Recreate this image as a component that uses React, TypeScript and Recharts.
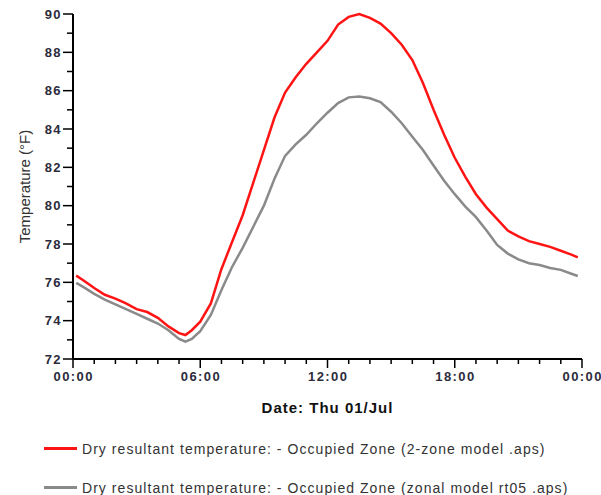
import React from 'react';
import { LineChart, Line, XAxis, YAxis, Legend } from 'recharts';

// hours since midnight, Thu 01/Jul
const hours = [
  0.15, 0.5, 1, 1.5, 2, 2.5, 3, 3.5, 4, 4.5, 5, 5.3, 5.6, 6, 6.5, 7, 7.5, 8, 8.5, 9,
  9.5, 10, 10.5, 11, 11.5, 12, 12.5, 13, 13.5, 14, 14.5, 15, 15.5, 16, 16.5, 17, 17.5,
  18, 18.5, 19, 19.5, 20, 20.5, 21, 21.5, 22, 22.5, 23, 23.5, 23.8,
];

// 2-zone model (red)
const twoZone = [
  76.35, 76.1, 75.7, 75.35, 75.15, 74.9, 74.6, 74.45, 74.15, 73.7, 73.35, 73.25, 73.5, 73.95,
  74.9, 76.7, 78.1, 79.5, 81.2, 82.9, 84.6, 85.9, 86.7, 87.4, 88.0, 88.6, 89.45, 89.85, 90.0,
  89.8, 89.5, 89.0, 88.4, 87.6, 86.4, 85.0, 83.7, 82.5, 81.5, 80.6, 79.9, 79.3, 78.7, 78.4,
  78.15, 78.0, 77.85, 77.65, 77.45, 77.3,
];

// zonal model rt05 (grey)
const zonal = [
  75.97, 75.75, 75.4, 75.1, 74.85, 74.6, 74.35, 74.1, 73.85, 73.5, 73.05, 72.9, 73.05, 73.45,
  74.3, 75.6, 76.8, 77.8, 78.9, 80.0, 81.4, 82.6, 83.2, 83.7, 84.3, 84.85, 85.35, 85.65, 85.7,
  85.6, 85.4, 84.9, 84.3, 83.6, 82.9, 82.1, 81.3, 80.6, 79.95, 79.4, 78.7, 77.95, 77.5, 77.2,
  77.0, 76.9, 76.75, 76.65, 76.45, 76.33,
];

const xTicks = [0, 1, 2, 3, 4, 5, 6, 7, 8, 9, 10, 11, 12, 13, 14, 15, 16, 17, 18, 19, 20, 21, 22, 23, 24];
const xLabels: Record<number, string> = { 0: '00:00', 6: '06:00', 12: '12:00', 18: '18:00', 24: '00:00' };
const yTicks = [72, 73, 74, 75, 76, 77, 78, 79, 80, 81, 82, 83, 84, 85, 86, 87, 88, 89, 90];

const seriesNames = [
  'Dry resultant temperature: - Occupied Zone (2-zone model .aps)',
  'Dry resultant temperature: - Occupied Zone (zonal model rt05 .aps)',
];

const data = hours.map((h, i) => ({ h, twoZone: twoZone[i], zonal: zonal[i] }));

const tickText = { fontFamily: 'Arial, "Liberation Sans", sans-serif', fontSize: 13, fontWeight: 700, letterSpacing: 1.4, fill: '#2b2b3b' };

const YTick = ({ x, y, payload }: any) => {
  const major = payload.value % 2 === 0;
  return (
    <g>
      <line x1={x - (major ? 10 : 6)} x2={x} y1={y} y2={y} stroke="#000" strokeWidth={1.5} />
      {major && (
        <text x={x - 11} y={y + 4.5} textAnchor="end" style={tickText}>
          {payload.value}
        </text>
      )}
    </g>
  );
};

const XTick = ({ x, y, payload }: any) => {
  const label = xLabels[payload.value];
  return (
    <g>
      <line x1={x} x2={x} y1={y} y2={y + (label ? 9 : 5)} stroke="#000" strokeWidth={1.5} />
      {label && (
        <text x={x + 0.7} y={y + 22} textAnchor="middle" style={tickText}>
          {label}
        </text>
      )}
    </g>
  );
};

const XLabel = ({ viewBox }: any) => (
  <text
    x={viewBox.x + viewBox.width / 2}
    y={viewBox.y + 54}
    textAnchor="middle"
    style={{ fontFamily: 'Arial, "Liberation Sans", sans-serif', fontSize: 15, fontWeight: 700, letterSpacing: 1, fill: '#111' }}
  >
    Date: Thu 01/Jul
  </text>
);

const YLabel = ({ viewBox }: any) => {
  const cx = viewBox.x + 30;
  const cy = viewBox.y + viewBox.height / 2;
  return (
    <text
      x={cx}
      y={cy}
      textAnchor="middle"
      transform={`rotate(-90, ${cx}, ${cy})`}
      style={{ fontFamily: 'Arial, "Liberation Sans", sans-serif', fontSize: 15, fill: '#333' }}
    >
      Temperature (°F)
    </text>
  );
};

const LegendRows = ({ payload }: any) => (
  <div style={{ fontFamily: 'Arial, "Liberation Sans", sans-serif', fontSize: 14, letterSpacing: 1.05, color: '#333' }}>
    {(payload || []).map((entry: any, i: number) => (
      <div key={i} style={{ display: 'flex', alignItems: 'center', height: 39, lineHeight: '16px' }}>
        <span style={{ display: 'inline-block', width: 33, height: 3, background: entry.color, marginRight: 5 }} />
        <span style={{ whiteSpace: 'nowrap' }}>{entry.value}</span>
      </div>
    ))}
  </div>
);

export default function App() {
  return (
    <div style={{ position: 'absolute', left: 0, top: 0, width: 601, height: 495, background: '#fff' }}>
      <LineChart width={601} height={495} data={data} margin={{ top: 14, right: 19, left: 0, bottom: 106 }}>
        <XAxis
          dataKey="h"
          type="number"
          domain={[0, 24]}
          ticks={xTicks}
          interval={0}
          tickSize={0}
          tickMargin={0}
          tickLine={false}
          height={30}
          axisLine={{ stroke: '#000', strokeWidth: 2 }}
          tick={<XTick />}
          label={<XLabel />}
        />
        <YAxis
          type="number"
          domain={[72, 90]}
          ticks={yTicks}
          interval={0}
          tickSize={0}
          tickMargin={0}
          tickLine={false}
          width={73}
          axisLine={{ stroke: '#000', strokeWidth: 2 }}
          tick={<YTick />}
          label={<YLabel />}
        />
        <Legend
          layout="horizontal"
          verticalAlign="middle"
          align="center"
          content={<LegendRows />}
          wrapperStyle={{ position: 'absolute', left: 44, top: 429, width: 557 }}
        />
        <Line
          type="linear"
          dataKey="twoZone"
          name={seriesNames[0]}
          stroke="#ff1414"
          strokeWidth={2.5}
          dot={false}
          isAnimationActive={false}
        />
        <Line
          type="linear"
          dataKey="zonal"
          name={seriesNames[1]}
          stroke="#8a8a8a"
          strokeWidth={2.5}
          dot={false}
          isAnimationActive={false}
        />
      </LineChart>
    </div>
  );
}
